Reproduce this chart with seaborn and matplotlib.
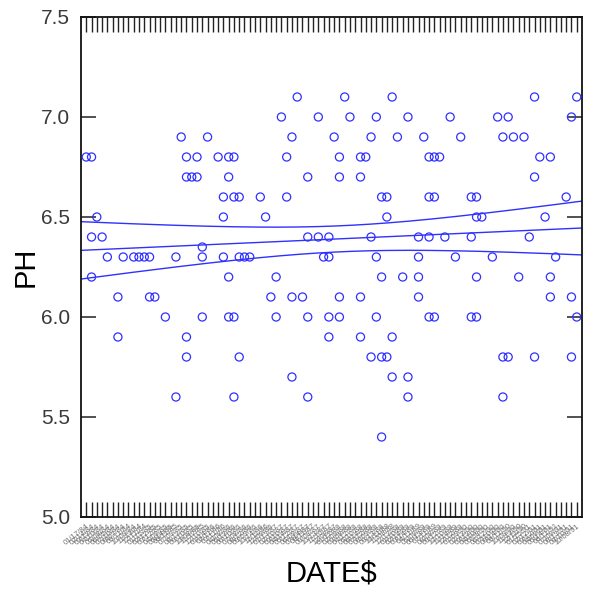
import numpy as np
import pandas as pd
import matplotlib
matplotlib.use("Agg")
import matplotlib.pyplot as plt
import seaborn as sns

# Sampling dates (category order on the x axis)
DATES = [
    "01/17/84", "02/14/84", "03/13/84", "04/10/84", "05/08/84", "06/05/84",
    "07/10/84", "08/07/84", "09/11/84", "10/09/84", "11/13/84", "12/11/84",
    "01/15/85", "02/12/85", "03/12/85", "04/09/85", "05/14/85", "06/11/85",
    "07/09/85", "08/13/85", "09/10/85", "10/08/85", "11/12/85", "12/10/85",
    "01/14/86", "02/11/86", "03/11/86", "04/08/86", "05/13/86", "06/10/86",
    "07/08/86", "08/12/86", "09/09/86", "10/14/86", "11/11/86", "12/09/86",
    "01/13/87", "02/10/87", "03/10/87", "04/14/87", "05/12/87", "06/09/87",
    "07/14/87", "08/11/87", "09/08/87", "10/13/87", "11/10/87", "12/08/87",
    "01/12/88", "02/09/88", "03/08/88", "04/12/88", "05/10/88", "06/14/88",
    "07/12/88", "08/09/88", "09/13/88", "10/11/88", "11/08/88", "12/13/88",
    "01/10/89", "02/14/89", "03/14/89", "04/11/89", "05/09/89", "06/13/89",
    "07/11/89", "08/08/89", "09/12/89", "10/10/89", "11/14/89", "12/12/89",
    "01/09/90", "02/13/90", "03/13/90", "04/10/90", "05/08/90", "06/12/90",
    "07/10/90", "08/14/90", "09/11/90", "10/09/90", "11/13/90", "12/11/90",
    "01/15/91", "02/12/91", "03/12/91", "04/09/91", "05/14/91", "06/11/91",
    "07/09/91", "08/13/91", "09/10/91", "10/08/91",
]

# Measured pH levels and, for each level, the date positions where it was recorded
PH_LEVELS = [7.1, 7.0, 6.9, 6.8, 6.7, 6.6, 6.5, 6.4, 6.35, 6.3,
             6.2, 6.1, 6.0, 5.9, 5.8, 5.7, 5.6, 5.4]
DATES_AT_LEVEL = [
    [40, 49, 58, 85, 93],
    [37, 44, 50, 55, 61, 69, 78, 80, 92],
    [18, 23, 39, 47, 54, 59, 64, 71, 79, 81, 83],
    [0, 1, 19, 21, 25, 27, 28, 38, 48, 52, 53, 65, 66, 67, 86, 88],
    [19, 20, 21, 27, 42, 48, 52, 85],
    [26, 28, 29, 33, 38, 56, 57, 65, 66, 73, 74, 91],
    [2, 26, 34, 57, 74, 75, 87],
    [1, 3, 42, 44, 46, 54, 63, 65, 68, 73, 84],
    [22],
    [4, 7, 9, 10, 11, 12, 17, 22, 26, 29, 30, 31, 45, 46, 55, 63, 70, 77, 89],
    [1, 27, 36, 56, 60, 63, 74, 82, 88],
    [6, 12, 13, 35, 39, 41, 48, 52, 63, 88, 92],
    [15, 22, 27, 28, 36, 42, 46, 48, 55, 65, 66, 73, 74, 93],
    [6, 19, 46, 52, 58],
    [19, 29, 54, 56, 57, 79, 80, 85, 92],
    [39, 58, 61],
    [17, 28, 42, 61, 79],
    [56],
]

BLUE = "#3030ff"

rows = []
for level, positions in zip(PH_LEVELS, DATES_AT_LEVEL):
    for p in positions:
        rows.append({"DATE$": DATES[p], "pos": p, "PH": level})
df = pd.DataFrame(rows)

sns.set_style("ticks")
plt.rcParams["font.family"] = ["Liberation Sans", "DejaVu Sans"]

fig = plt.figure(figsize=(5.92, 5.92), dpi=100)
ax = fig.add_axes([81 / 592, 75 / 592, 501 / 592, 500 / 592])

sns.scatterplot(data=df, x="pos", y="PH", ax=ax, s=34, color=BLUE,
                linewidth=0.9, legend=False, zorder=3)
pts = ax.collections[-1]
pts.set_facecolor("none")
pts.set_edgecolor(BLUE)

# Least-squares line with 95% confidence band for the mean
x = df["pos"].to_numpy(float)
y = df["PH"].to_numpy(float)
n = len(x)
slope, intercept = np.polyfit(x, y, 1)
resid = y - (intercept + slope * x)
s = np.sqrt(np.sum(resid ** 2) / (n - 2))
sxx = np.sum((x - x.mean()) ** 2)
xlo, xhi = -1, len(DATES)
grid = np.linspace(xlo, xhi, 200)
fit = intercept + slope * grid
half = 1.975 * s * np.sqrt(1 / n + (grid - x.mean()) ** 2 / sxx)
for curve in (fit, fit + half, fit - half):
    ax.plot(grid, curve, color=BLUE, lw=1.0, zorder=2)

ax.set_xlim(xlo, xhi)
ax.set_ylim(5.0, 7.5)
ax.set_yticks([5.0, 5.5, 6.0, 6.5, 7.0, 7.5])
ax.set_yticklabels(["5.0", "5.5", "6.0", "6.5", "7.0", "7.5"])
ax.set_xticks(range(len(DATES)))
ax.set_xticklabels(DATES, rotation=38, ha="right", rotation_mode="anchor",
                   fontsize=5.4, color="#6e6e6e")

ax.tick_params(axis="y", which="both", direction="in", left=True, right=True,
               length=10.5, width=1.1, color="#222222", pad=8,
               labelsize=15, labelcolor="#3a3a3a")
ax.tick_params(axis="x", which="both", direction="in", top=True, bottom=True,
               length=11, width=1.0, color="#222222", pad=4)

for side in ("left", "right", "top", "bottom"):
    ax.spines[side].set_visible(True)
    ax.spines[side].set_color("#111111")
    ax.spines[side].set_linewidth(1.3)

ax.set_ylabel("PH", fontsize=21, va="center", color="black")
ax.yaxis.set_label_coords((26 - 81) / 501, 0.5)
ax.set_xlabel("DATE$", fontsize=21, va="center", color="black")
ax.xaxis.set_label_coords(0.5, (517 - 574) / 500)

fig.savefig("out.png", dpi=100)
